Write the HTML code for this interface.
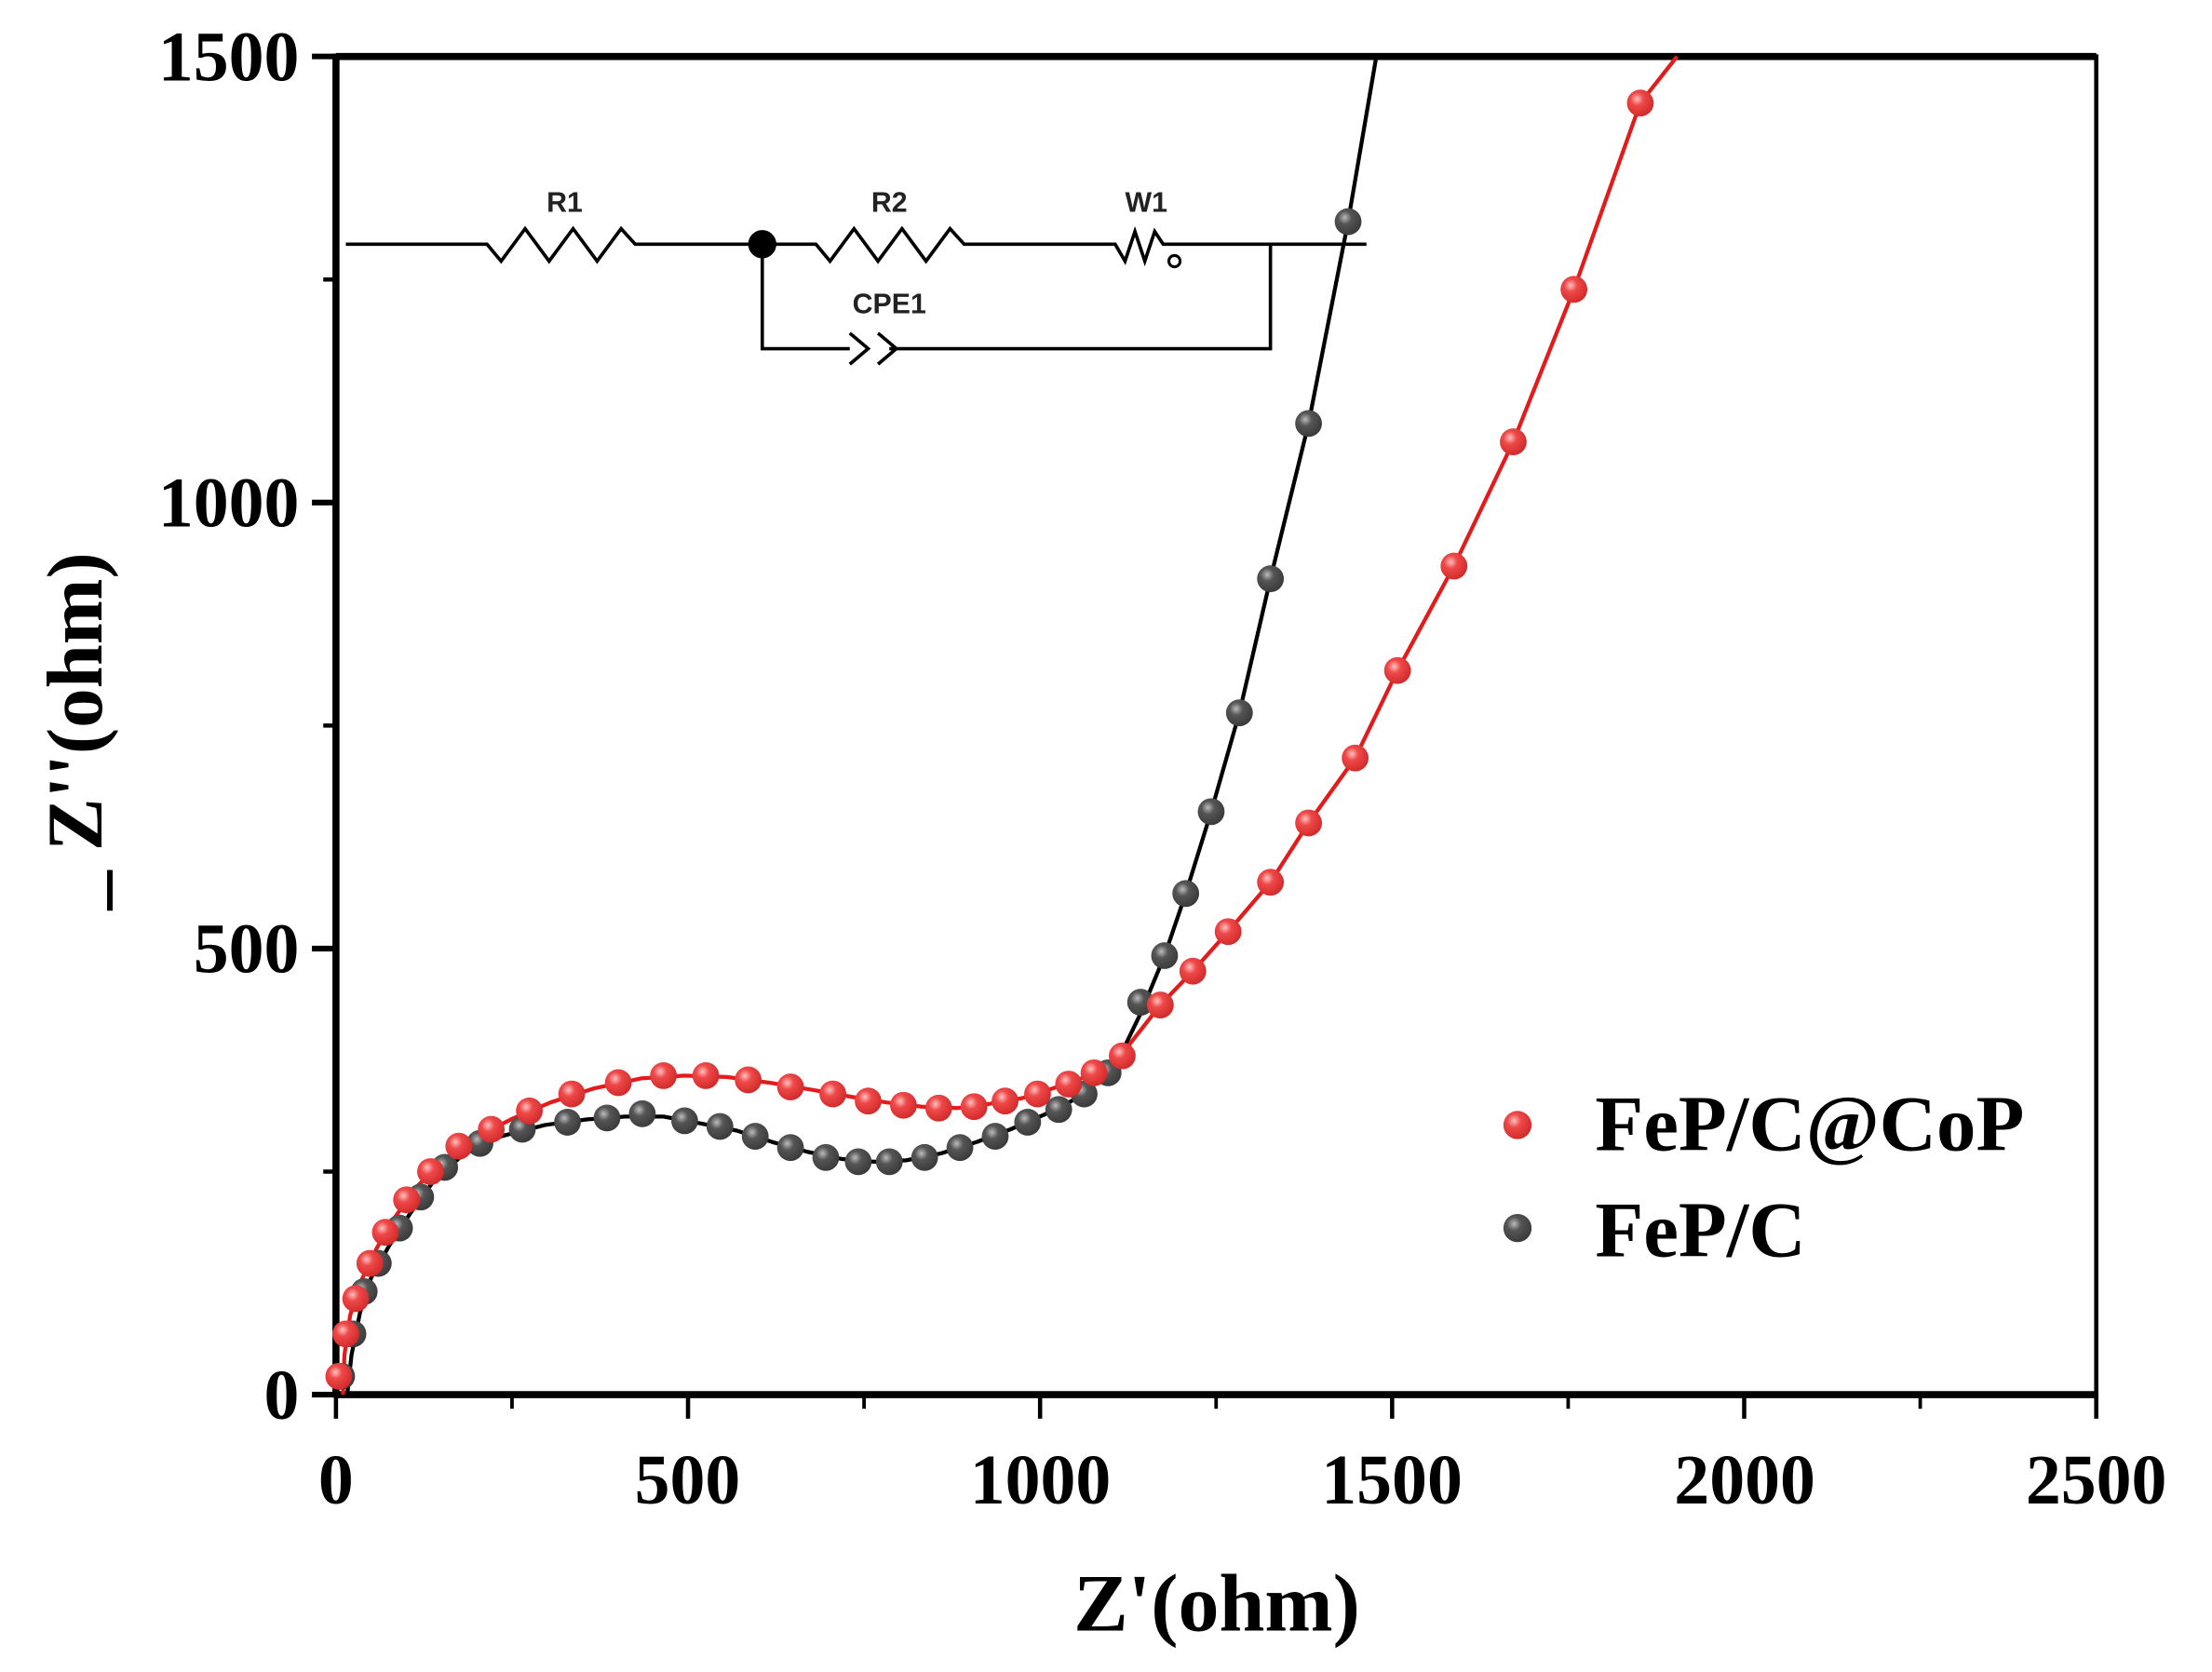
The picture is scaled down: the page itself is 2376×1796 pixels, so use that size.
<!DOCTYPE html>
<html><head><meta charset="utf-8"><style>
html,body{margin:0;padding:0;background:#fff;}
svg{display:block;}
</style></head><body>
<svg width="2376" height="1796" viewBox="0 0 1567 1184.5" preserveAspectRatio="none" xmlns="http://www.w3.org/2000/svg">
<defs>
<radialGradient id="rg" cx="0.38" cy="0.35" r="0.7"><stop offset="0" stop-color="#ffc0c0"/><stop offset="0.35" stop-color="#ee4848"/><stop offset="1" stop-color="#d02828"/></radialGradient>
<radialGradient id="bg" cx="0.38" cy="0.35" r="0.7"><stop offset="0" stop-color="#bbb"/><stop offset="0.35" stop-color="#555"/><stop offset="1" stop-color="#383838"/></radialGradient>
</defs>
<rect width="1567" height="1185" fill="#fff"/>
<!-- circuit -->
<g stroke="#000" stroke-width="2.4" fill="none">
<path d="M245 173 H345 L355 185 L372 162 L389 185 L406 162 L423 185 L440 162 L450 173 H540 M540 173 H578 L588 185 L605 162 L622 185 L639 162 L656 185 L673 162 L683 173 H790 L797 185 L804 164 L811 185 L818 164 L824 173 H968"/>
<path d="M540 173 V247 H602 M602 236 L615 247 L602 258 M622 236 L635 247 L622 258 M630 247 H900 V173"/>
</g>
<circle cx="540" cy="173" r="10" fill="#000"/>
<circle cx="832" cy="185" r="4" fill="none" stroke="#000" stroke-width="2"/>
<g font-family="Liberation Sans, sans-serif" font-weight="bold" font-size="20" text-anchor="middle" fill="#222">
<text x="400" y="150">R1</text><text x="630" y="150">R2</text><text x="812" y="150">W1</text><text x="630" y="222">CPE1</text>
</g>
<!-- axes -->
<g stroke="#000" fill="none">
<rect x="238" y="40" width="1247" height="948" stroke-width="3"/>
<path d="M238 40 H1485 M238 988 H1485" stroke-width="5"/>
<path d="M238 38 V990" stroke-width="5"/>
<path d="M238 988 v17 M487.4 988 v17 M736.8 988 v17 M986.2 988 v17 M1235.6 988 v17 M1485 988 v17" stroke-width="3"/>
<path d="M362.7 988 v10 M612.1 988 v10 M861.5 988 v10 M1110.9 988 v10 M1360.3 988 v10" stroke-width="2.5"/>
<path d="M238 40 h-17 M238 356 h-17 M238 672 h-17 M238 988 h-17" stroke-width="4"/>
<path d="M238 198 h-9 M238 514 h-9 M238 830 h-9" stroke-width="3"/>
</g>
<g font-family="Liberation Serif, serif" font-weight="bold" font-size="50" fill="#000">
<g text-anchor="end"><text x="212" y="57">1500</text><text x="212" y="373">1000</text><text x="212" y="689">500</text><text x="212" y="1005">0</text></g>
<g text-anchor="middle"><text x="238" y="1065">0</text><text x="487" y="1065">500</text><text x="737" y="1065">1000</text><text x="986" y="1065">1500</text><text x="1236" y="1065">2000</text><text x="1485" y="1065">2500</text></g>
<text x="862" y="1155" text-anchor="middle" font-size="58">Z'(ohm)</text>
<text transform="translate(72,518) rotate(-90)" text-anchor="middle" font-size="56">_ Z''(ohm)</text>
<text x="1130" y="815" font-size="56">FeP/C@CoP</text>
<text x="1130" y="890" font-size="56">FeP/C</text>
</g>
<!-- fit lines -->
<polyline fill="none" stroke="#000" stroke-width="2.8" stroke-linejoin="round" points="246,988 249,960 255,930 263,905 276,882 291,859 307,837 328,818 355,805 386,797 416,793 443,791 470,791 497,796 522,801 547,809 572,816 596,821 619,823 642,822 667,817 692,809 716,800 739,790 759,780 777,767 795,745 808,718 825,677 840,633 858,575 878,505 900,410 927,300 955,157 975,40"/>
<polyline fill="none" stroke="#e51b1b" stroke-width="2.8" stroke-linejoin="round" points="243,988 244,960 248,932 256,907 267,884 280,862 296,840 315,821 337,806 362,793 390,781 421,771 454,764 485,762 515,763 545,767 575,772 603,777 628,781 653,784 678,785 701,782 724,778 746,771 766,764 785,754 800,740 822,712 845,688 870,660 900,625 927,583 960,537 990,475 1030,401 1072,313 1115,205 1162,73 1188,40"/>
<!-- black data -->
<g fill="url(#bg)">
<circle cx="242" cy="975" r="9.5"/><circle cx="250" cy="945" r="9.5"/><circle cx="258" cy="915" r="9.5"/><circle cx="268" cy="895" r="9.5"/><circle cx="283" cy="870" r="9.5"/><circle cx="298" cy="848" r="9.5"/><circle cx="315" cy="827" r="9.5"/><circle cx="340" cy="810" r="9.5"/><circle cx="370" cy="800" r="9.5"/><circle cx="402" cy="795" r="9.5"/><circle cx="430" cy="792" r="9.5"/><circle cx="455" cy="789" r="9.5"/><circle cx="485" cy="794" r="9.5"/><circle cx="510" cy="798" r="9.5"/><circle cx="535" cy="805" r="9.5"/><circle cx="560" cy="813" r="9.5"/><circle cx="585" cy="820" r="9.5"/><circle cx="608" cy="823" r="9.5"/><circle cx="630" cy="823" r="9.5"/><circle cx="655" cy="820" r="9.5"/><circle cx="680" cy="813" r="9.5"/><circle cx="705" cy="805" r="9.5"/><circle cx="728" cy="795" r="9.5"/><circle cx="750" cy="786" r="9.5"/><circle cx="768" cy="775" r="9.5"/><circle cx="785" cy="760" r="9.5"/><circle cx="808" cy="710" r="9.5"/><circle cx="825" cy="677" r="9.5"/><circle cx="840" cy="633" r="9.5"/><circle cx="858" cy="575" r="9.5"/><circle cx="878" cy="505" r="9.5"/><circle cx="900" cy="410" r="9.5"/><circle cx="927" cy="300" r="9.5"/><circle cx="955" cy="157" r="9.5"/>
<circle cx="1075" cy="870" r="10"/>
</g>
<!-- red data -->
<g fill="url(#rg)">
<circle cx="240" cy="975" r="9.5"/><circle cx="245" cy="945" r="9.5"/><circle cx="252" cy="920" r="9.5"/><circle cx="262" cy="895" r="9.5"/><circle cx="273" cy="873" r="9.5"/><circle cx="288" cy="850" r="9.5"/><circle cx="305" cy="830" r="9.5"/><circle cx="325" cy="812" r="9.5"/><circle cx="348" cy="800" r="9.5"/><circle cx="375" cy="787" r="9.5"/><circle cx="405" cy="775" r="9.5"/><circle cx="438" cy="767" r="9.5"/><circle cx="470" cy="762" r="9.5"/><circle cx="500" cy="762" r="9.5"/><circle cx="530" cy="765" r="9.5"/><circle cx="560" cy="770" r="9.5"/><circle cx="590" cy="775" r="9.5"/><circle cx="615" cy="780" r="9.5"/><circle cx="640" cy="783" r="9.5"/><circle cx="665" cy="785" r="9.5"/><circle cx="690" cy="784" r="9.5"/><circle cx="712" cy="780" r="9.5"/><circle cx="735" cy="775" r="9.5"/><circle cx="757" cy="768" r="9.5"/><circle cx="775" cy="760" r="9.5"/><circle cx="795" cy="748" r="9.5"/><circle cx="822" cy="712" r="9.5"/><circle cx="845" cy="688" r="9.5"/><circle cx="870" cy="660" r="9.5"/><circle cx="900" cy="625" r="9.5"/><circle cx="927" cy="583" r="9.5"/><circle cx="960" cy="537" r="9.5"/><circle cx="990" cy="475" r="9.5"/><circle cx="1030" cy="401" r="9.5"/><circle cx="1072" cy="313" r="9.5"/><circle cx="1115" cy="205" r="9.5"/><circle cx="1162" cy="73" r="9.5"/>
<circle cx="1075" cy="797" r="10"/>
</g>
</svg>
</body></html>
